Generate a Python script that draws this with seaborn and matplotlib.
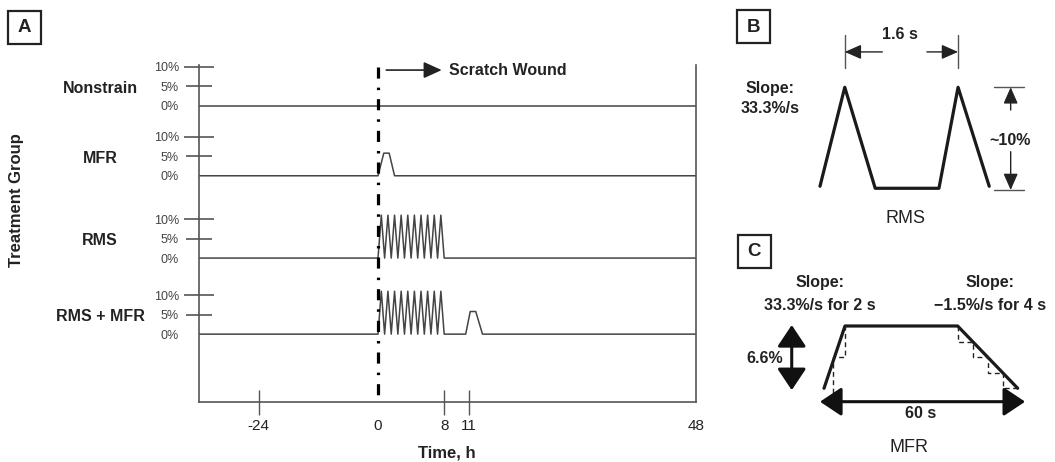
import matplotlib
matplotlib.use("Agg")
import matplotlib.pyplot as plt
import matplotlib.transforms as mtransforms
from matplotlib.patches import Rectangle
import numpy as np
import seaborn as sns

# Data
groups = ['Nonstrain', 'MFR', 'RMS', 'RMS + MFR']
strain_ticks = [0, 5, 10]
strain_labels = ['0%', '5%', '10%']
time_ticks = [-24, 0, 8, 11, 48]
time_labels = ['-24', '0', '8', '11', '48']

nonstrain_t = [-36, 48]
nonstrain_s = [0, 0]
mfr_t = [-36, 0, 0.7, 1.35, 2.0, 48]
mfr_s = [0, 0, 5.8, 5.8, 0, 0]
rms_t = [-36, 0, 0.4, 0.8, 1.2, 1.6, 2.0, 2.4, 2.8, 3.2, 3.6, 4.0, 4.4, 4.8,
         5.2, 5.6, 6.0, 6.4, 6.8, 7.2, 7.6, 8.0, 48]
rms_s = [0, 0, 11, 0, 11, 0, 11, 0, 11, 0, 11, 0, 11, 0,
         11, 0, 11, 0, 11, 0, 11, 0, 0]
rmsmfr_t = [-36, 0, 0.4, 0.8, 1.2, 1.6, 2.0, 2.4, 2.8, 3.2, 3.6, 4.0, 4.4, 4.8,
            5.2, 5.6, 6.0, 6.4, 6.8, 7.2, 7.6, 8.0, 10.6, 11.2, 12.1, 13.2, 48]
rmsmfr_s = [0, 0, 11, 0, 11, 0, 11, 0, 11, 0, 11, 0, 11, 0,
            11, 0, 11, 0, 11, 0, 11, 0, 0, 5.8, 5.8, 0, 0]
series_t = [nonstrain_t, mfr_t, rms_t, rmsmfr_t]
series_s = [nonstrain_s, mfr_s, rms_s, rmsmfr_s]

# panel B: one RMS cycle (s, %)
rms_cycle_t = [0, 0.35, 0.78, 1.68, 1.95, 2.39]
rms_cycle_s = [0.2, 10, 0, 0, 10, 0.2]
# panel C: one MFR pulse (schematic s, %)
mfr_pulse_t = [0, 6.5, 41.4, 60]
mfr_pulse_s = [0, 6.6, 6.6, 0]
rise_step_t = [2.8, 2.8, 6.5, 6.5]
rise_step_s = [-0.5, 3.3, 3.3, 6.6]
fall_step_t = [41.4, 41.4, 46.1, 46.1, 50.7, 50.7, 55.4, 55.4, 60]
fall_step_s = [6.6, 4.95, 4.95, 3.3, 3.3, 1.65, 1.65, 0, 0]

# Style
sns.set_theme(style="white")
plt.rcParams['font.family'] = ['Liberation Sans', 'DejaVu Sans']
plt.rcParams['lines.scale_dashes'] = False

fig = plt.figure(figsize=(10.55, 4.62), dpi=100)

# ---------------- Panel A ----------------
ax = fig.add_axes([199 / 1055, 60 / 462, 497 / 1055, 337 / 462])
row_base = [76.0, 58.0, 36.9, 17.4]

# broken time axis
tb = [-36, 0, 11, 48]
pb = [0, 179, 270, 497]
ax.set_xscale('function', functions=(lambda x: np.interp(x, tb, pb),
                                     lambda p: np.interp(p, pb, tb)))

for t, s, base in zip(series_t, series_s, row_base):
    sns.lineplot(x=t, y=[base + v for v in s], ax=ax, color='#444',
                 lw=1.1, estimator=None, sort=False)

# scratch wound marker, drawn top-down so the dash pattern starts at the top
ax.plot([0, 0], [86.0, 0], color='black', lw=2.3,
        dashes=(8, 6.5, 1.8, 6.5), zorder=5, clip_on=False)

ax.set_xlim(-36, 48)
ax.set_ylim(0, 86.4)

yt, yl = [], []
for base in row_base:
    for v, lab in zip(strain_ticks, strain_labels):
        yt.append(base + v)
        yl.append(lab)
ax.set_yticks(yt, yl)
ax.set_xticks(time_ticks, time_labels)
ax.tick_params(axis='y', left=True, direction='inout', length=22, width=1.2,
               color='#555', labelsize=9, labelcolor='#444', pad=3.4)
ax.tick_params(axis='x', bottom=True, direction='inout', length=18, width=1,
               color='#555', labelsize=11, labelcolor='#222', pad=3)
for tick, lab in zip(ax.yaxis.get_major_ticks(), yl):
    if lab == '0%':
        tick.tick1line.set_visible(False)
    elif lab == '5%':
        tick.tick1line.set_markersize(19)
for tick, lab in zip(ax.xaxis.get_major_ticks(), time_labels):
    if lab in ('0', '48'):
        tick.tick1line.set_visible(False)

for side in ['left', 'bottom', 'right']:
    ax.spines[side].set_color('#555')
    ax.spines[side].set_linewidth(1.2)
ax.spines['top'].set_visible(False)

ax.set_xlabel('Time, h', fontsize=12, fontweight='bold', color='#222')
ax.xaxis.set_label_coords(0.499, -0.13)
ax.set_ylabel('Treatment Group', fontsize=12, fontweight='bold', color='#222')
ax.yaxis.set_label_coords(-0.352, 0.6)

trans = mtransforms.blended_transform_factory(ax.transAxes, ax.transData)
for name, base in zip(groups, row_base):
    ax.text(-0.199, base + 4.5, name, transform=trans, ha='center', va='center',
            fontsize=11.5, fontweight='bold', color='#222')

ax.annotate('', xy=(7.7, 85.1), xytext=(1.0, 85.1),
            arrowprops=dict(arrowstyle='-|>,head_length=0.55,head_width=0.25',
                            color='#222', lw=1.2, shrinkA=0, shrinkB=0,
                            mutation_scale=20),
            annotation_clip=False)
ax.text(8.6, 85.1, 'Scratch Wound', ha='left', va='center', fontsize=11.5,
        fontweight='bold', color='#222', clip_on=False)

# ---------------- Panel B ----------------
axb = fig.add_axes([720 / 1055, 232 / 462, 335 / 1055, 230 / 462])
sns.lineplot(x=rms_cycle_t, y=rms_cycle_s, ax=axb, color='#1a1a1a', lw=2.3,
             estimator=None, sort=False)
axb.set_xlim(-1.412, 3.319)
axb.set_ylim(-4.13, 18.64)
axb.axis('off')

thin = dict(arrowstyle='-|>,head_length=0.5,head_width=0.22', color='#222',
            lw=1.0, shrinkA=0, shrinkB=0, mutation_scale=20)
for tp in [0.35, 1.95]:
    axb.plot([tp, tp], [11.9, 15.2], color='#555', lw=1)
axb.annotate('', xy=(0.35, 13.5), xytext=(0.88, 13.5), arrowprops=thin)
axb.annotate('', xy=(1.95, 13.5), xytext=(1.51, 13.5), arrowprops=thin)
axb.text(1.13, 15.2, '1.6 s', ha='center', va='center', fontsize=11.5,
         fontweight='bold', color='#222')
for lv in [10, -0.17]:
    axb.plot([2.458, 2.881], [lv, lv], color='#555', lw=1)
axb.annotate('', xy=(2.693, 10), xytext=(2.693, 7.75), arrowprops=thin)
axb.annotate('', xy=(2.693, -0.17), xytext=(2.693, 3.62), arrowprops=thin)
axb.text(2.69, 4.7, '~10%', ha='center', va='center', fontsize=11.5,
         fontweight='bold', color='#222')
axb.text(-0.71, 9.4, 'Slope:', ha='center', va='baseline', fontsize=11.5,
         fontweight='bold', color='#222')
axb.text(-0.70, 7.5, '33.3%/s', ha='center', va='baseline', fontsize=11.5,
         fontweight='bold', color='#222')
axb.text(1.21, -2.97, 'RMS', ha='center', va='center', fontsize=13, color='#222')

# ---------------- Panel C ----------------
axc = fig.add_axes([720 / 1055, 0, 335 / 1055, 232 / 462])
sns.lineplot(x=mfr_pulse_t, y=mfr_pulse_s, ax=axc, color='#1a1a1a', lw=2.3,
             estimator=None, sort=False)
sns.lineplot(x=rise_step_t, y=rise_step_s, ax=axc, color='#222', lw=1,
             estimator=None, sort=False)
sns.lineplot(x=fall_step_t, y=fall_step_s, ax=axc, color='#222', lw=1,
             estimator=None, sort=False)
for ln in axc.lines[1:]:
    ln.set_dashes((3.5, 2.5))
axc.set_xlim(-32.22, 71.56)
axc.set_ylim(-7.81, 16.77)
axc.axis('off')

thick = dict(arrowstyle='<|-|>,head_length=0.6,head_width=0.4', color='#111',
             lw=2.2, shrinkA=0, shrinkB=0, mutation_scale=22)
axc.annotate('', xy=(-10, 6.7), xytext=(-10, -0.2), arrowprops=thick)
axc.annotate('', xy=(62.3, -1.42), xytext=(-1.24, -1.42), arrowprops=thick)
axc.text(-18.3, 3.16, '6.6%', ha='center', va='center', fontsize=11.5,
         fontweight='bold', color='#222')
axc.text(30, -2.65, '60 s', ha='center', va='center', fontsize=11.5,
         fontweight='bold', color='#222')
axc.text(26.3, -6.32, 'MFR', ha='center', va='center', fontsize=13, color='#222')
axc.text(-1.24, 10.76, 'Slope:', ha='center', va='baseline', fontsize=11.5,
         fontweight='bold', color='#222')
axc.text(-1.3, 8.29, '33.3%/s for 2 s', ha='center', va='baseline',
         fontsize=11.5, fontweight='bold', color='#222')
axc.text(51.3, 10.76, 'Slope:', ha='center', va='baseline', fontsize=11.5,
         fontweight='bold', color='#222')
axc.text(51.4, 8.29, '\u22121.5%/s for 4 s', ha='center', va='baseline',
         fontsize=11.5, fontweight='bold', color='#222')

# ---------------- panel letters ----------------
ov = fig.add_axes([0, 0, 1, 1])
ov.set_xlim(0, 1055)
ov.set_ylim(462, 0)
ov.axis('off')
for letter, x0, y0 in [('A', 8, 10.7), ('B', 737, 10), ('C', 738, 235)]:
    ov.add_patch(Rectangle((x0, y0), 33, 33, fill=False, lw=1.6, ec='#222'))
    ov.text(x0 + 16.5, y0 + 17, letter, ha='center', va='center',
            fontsize=13.5, fontweight='bold', color='#222')

fig.savefig('out.png', dpi=100)
